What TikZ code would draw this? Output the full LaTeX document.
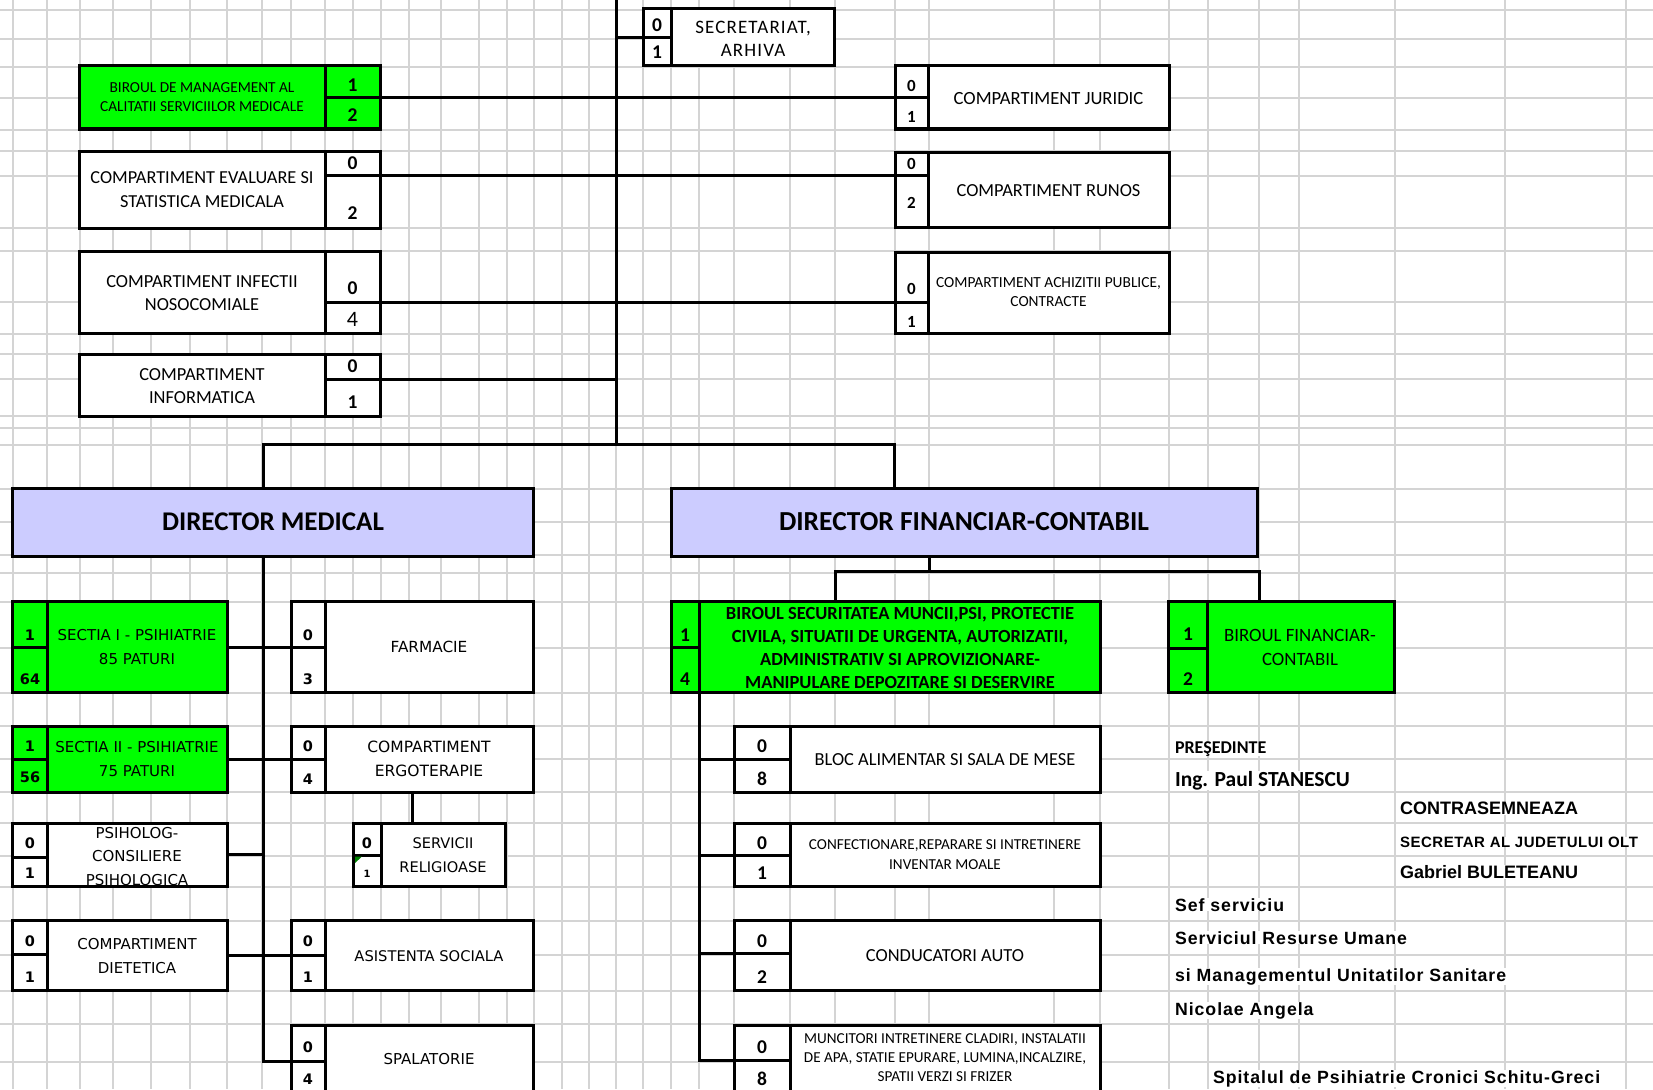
\documentclass[tikz,border=0pt]{standalone}
\usepackage{fontspec}
\setmainfont{Carlito}
\newfontfamily\calfont{Carlito}
\newfontfamily\secfont{Carlito}[LetterSpace=6]
\newfontfamily\dvfont{DejaVu Sans}
\newfontfamily\arfont{Liberation Sans}
\newfontfamily\arlsfont{Liberation Sans}[LetterSpace=5.5]
\newfontfamily\arlsbfont{Liberation Sans}[LetterSpace=3.5]
\usetikzlibrary{fit}
\definecolor{grn}{RGB}{0,255,0}
\definecolor{lav}{RGB}{204,204,255}
\definecolor{gridc}{RGB}{212,212,212}
\definecolor{dkgrn}{RGB}{0,128,0}
\newcommand\fsz[2]{\fontsize{#1}{#2}\selectfont}
\tikzset{
  gridl/.style={draw=gridc, line width=1.6pt},
  bx/.style={draw=black, line width=3pt, inner sep=0pt, outer sep=0pt, rectangle, fill=white},
  gbx/.style={bx, fill=grn},
  conn/.style={draw=black, line width=3pt},
  tx/.style={inner sep=0pt, outer sep=0pt, align=center, text=black},
  numc/.style={tx, font={\calfont\bfseries\fsz{19.5}{20}}},
  numj/.style={tx, font={\calfont\bfseries\fsz{17}{18}}},
  numv/.style={tx, font={\dvfont\bfseries\fsz{14.5}{16}}},
  sig/.style={inner sep=0pt, outer sep=0pt, anchor=base west, fill=white, text=black},
}
\begin{document}
\begin{tikzpicture}[x=1pt,y=-1pt]
\useasboundingbox (0,0) rectangle (1653,1089);
\clip (0,0) rectangle (1653,1089);
\fill[white] (0,0) rectangle (1653,1089);
% spreadsheet grid
\foreach \x in {13,47,80,113,151,190,227,262,291,325,353,381,409,441,479,507,534,562,589,616,643,671,699,734,790,835,895,929,1054,1100,1169,1208,1259,1299,1395,1505,1626}
  \draw[gridl] (\x,0) -- (\x,1089);
\foreach \y in {10,39,67,98,130,151,176,228,251,302,334,354,379,416,428,445,489,522,555,573,602,648,693,726,759,792,823,856,887,921,955,991,1024,1062}
  \draw[gridl] (0,\y) -- (1653,\y);

% junction coordinates
\coordinate (ttop) at (616,0);
\coordinate (tbot) at (616,444);
\coordinate (jl) at (263,444);
\coordinate (jr) at (894,444);
\coordinate (mt) at (263,1061);
\coordinate (jfc) at (929,571);
\coordinate (jbs) at (835,571);
\coordinate (jbf) at (1259,571);
\coordinate (ft) at (699,1060);

% ---------- boxes (top) ----------
\node[gbx,fit={(79,66)(380,129)}] (bm) {};
\node[bx,fit={(79,151)(380,228)}] (ev) {};
\node[bx,fit={(79,251)(380,333)}] (in) {};
\node[bx,fit={(79,354)(380,416)}] (if) {};
\node[bx,fit={(643,9)(834,66)}] (se) {};
\node[bx,fit={(895,66)(1169,129)}] (ju) {};
\node[bx,fit={(895,152)(1169,227)}] (ru) {};
\node[bx,fit={(895,252)(1169,333)}] (ac) {};
% ---------- boxes (bottom) ----------
\node[bx,fill=lav,fit={(12.5,488)(533,556)}] (dm) {};
\node[bx,fill=lav,fit={(671.5,488)(1257,556)}] (fc) {};
\node[gbx,fit={(12.5,601)(227,692)}] (s1) {};
\node[gbx,fit={(12.5,726)(227,792)}] (s2) {};
\node[bx,fit={(12.5,823)(227,886)}] (ps) {};
\node[bx,fit={(12.5,920)(227,990)}] (di) {};
\node[bx,fit={(291,601)(533,692)}] (fa) {};
\node[bx,fit={(291,726)(533,792)}] (er) {};
\node[bx,fit={(353,823)(505,886)}] (sv) {};
\node[bx,fit={(291,920)(533,990)}] (as) {};
\node[bx,fit={(291,1025)(533,1100)}] (sp) {};
\node[gbx,fit={(671.5,601)(1100,692)}] (bs) {};
\node[gbx,fit={(1168,601)(1394,692)}] (bf) {};
\node[bx,fit={(734,726)(1100,792)}] (bl) {};
\node[bx,fit={(734,823)(1100,886)}] (cf) {};
\node[bx,fit={(734,920)(1100,990)}] (ca) {};
\node[bx,fit={(734,1025)(1100,1100)}] (mu) {};

% number cells
\node[gbx,fit={(325,66)(380,98)}] (bm1) {};
\node[gbx,fit={(325,98)(380,129)}] (bm2) {};
\node[bx,fit={(325,151)(380,175)}] (ev1) {};
\node[bx,fit={(325,175)(380,228)}] (ev2) {};
\node[bx,fit={(325,251)(380,302)}] (in1) {};
\node[bx,fit={(325,302)(380,333)}] (in2) {};
\node[bx,fit={(325,354)(380,379)}] (if1) {};
\node[bx,fit={(325,379)(380,416)}] (if2) {};
\node[bx,fit={(643,9)(671,38)}] (se1) {};
\node[bx,fit={(643,38)(671,66)}] (se2) {};
\node[bx,fit={(895,66)(928,98)}] (ju1) {};
\node[bx,fit={(895,98)(928,129)}] (ju2) {};
\node[bx,fit={(895,152)(928,175)}] (ru1) {};
\node[bx,fit={(895,175)(928,227)}] (ru2) {};
\node[bx,fit={(895,252)(928,302)}] (ac1) {};
\node[bx,fit={(895,302)(928,333)}] (ac2) {};
\node[gbx,fit={(12.5,601)(47,647)}] (s11) {};
\node[gbx,fit={(12.5,647)(47,692)}] (s12) {};
\node[gbx,fit={(12.5,726)(47,759)}] (s21) {};
\node[gbx,fit={(12.5,759)(47,792)}] (s22) {};
\node[bx,fit={(12.5,823)(47,857)}] (ps1) {};
\node[bx,fit={(12.5,857)(47,886)}] (ps2) {};
\node[bx,fit={(12.5,920)(47,954)}] (di1) {};
\node[bx,fit={(12.5,954)(47,990)}] (di2) {};
\node[bx,fit={(291,601)(325,647)}] (fa1) {};
\node[bx,fit={(291,647)(325,692)}] (fa2) {};
\node[bx,fit={(291,726)(325,759)}] (er1) {};
\node[bx,fit={(291,759)(325,792)}] (er2) {};
\node[bx,fit={(353,823)(381,855)}] (sv1) {};
\node[bx,fit={(353,855)(381,886)}] (sv2) {};
\node[bx,fit={(291,920)(325,955)}] (as1) {};
\node[bx,fit={(291,955)(325,990)}] (as2) {};
\node[bx,fit={(291,1025)(325,1061)}] (sp1) {};
\node[bx,fit={(291,1061)(325,1100)}] (sp2) {};
\node[gbx,fit={(671.5,601)(699,647)}] (bs1) {};
\node[gbx,fit={(671.5,647)(699,692)}] (bs2) {};
\node[gbx,fit={(1168,601)(1207,648)}] (bf1) {};
\node[gbx,fit={(1168,648)(1207,692)}] (bf2) {};
\node[bx,fit={(734,726)(790,759)}] (bl1) {};
\node[bx,fit={(734,759)(790,792)}] (bl2) {};
\node[bx,fit={(734,823)(790,855)}] (cf1) {};
\node[bx,fit={(734,855)(790,886)}] (cf2) {};
\node[bx,fit={(734,920)(790,953)}] (ca1) {};
\node[bx,fit={(734,953)(790,990)}] (ca2) {};
\node[bx,fit={(734,1025)(790,1060)}] (mu1) {};
\node[bx,fit={(734,1060)(790,1100)}] (mu2) {};
\fill[dkgrn] (355,856.5) -- (362,856.5) -- (355,863) -- cycle;

% ---------- connectors ----------
\draw[conn] (ttop) -- (tbot);
\draw[conn] (se1.south west) -- (se1.south west -| ttop);
\draw[conn] (bm.east) -- (ju.west);
\draw[conn] (ev1.south east) -- (ru1.south west);
\draw[conn] (in1.south east) -- (ac1.south west);
\draw[conn] (if1.south east) -- (if1.south east -| ttop);
\draw[conn] (dm.north -| jl) -- (jl) -- (jr) -- (fc.north -| jr);
\draw[conn] (dm.south -| mt) -- (mt) -- (sp1.south west);
\draw[conn] (fa1.south west) -- (fa1.south west -| s1.east);
\draw[conn] (er1.south west) -- (er1.south west -| s2.east);
\draw[conn] (ps.east) -- (ps.east -| mt);
\draw[conn] (as1.south west) -- (as1.south west -| di.east);
\draw[conn] (er.south) -- (er.south |- sv.north);
\draw[conn] (fc.south -| jfc) -- (jfc);
\draw[conn] (bs.north -| jbs) -- (jbs) -- (jbf) -- (bf.north -| jbf);
\draw[conn] (bs.south -| ft) -- (ft) -- (mu1.south west);
\draw[conn] (bl1.south west) -- (bl1.south west -| ft);
\draw[conn] (cf1.south west) -- (cf1.south west -| ft);
\draw[conn] (ca1.south west) -- (ca1.south west -| ft);

% ---------- texts (top) ----------
\node[tx,font={\calfont\fsz{15.3}{19}}] (bmt) at (202,97.5) {BIROUL DE MANAGEMENT AL\\CALITATII SERVICIILOR MEDICALE};
\node[numc] (bm1t) at (352.5,85) {1};
\node[numc] (bm2t) at (352.5,115) {2};
\node[tx,font={\calfont\fsz{18.3}{24}}] (evt) at (202,190) {COMPARTIMENT EVALUARE SI\\STATISTICA MEDICALA};
\node[numc] (ev1t) at (352.5,163) {0};
\node[numc] (ev2t) at (352.5,213) {2};
\node[tx,font={\calfont\fsz{18.4}{23}}] (int) at (202,293.5) {COMPARTIMENT INFECTII\\NOSOCOMIALE};
\node[numc] (in1t) at (352.5,288) {0};
\node[tx,font={\calfont\fsz{22}{22}}] (in2t) at (352.5,319) {4};
\node[tx,font={\calfont\fsz{18.4}{23}}] (ift) at (202,386.5) {COMPARTIMENT\\INFORMATICA};
\node[numc] (if1t) at (352.5,366) {0};
\node[numc] (if2t) at (352.5,402) {1};
\node[tx,font={\secfont\fsz{19}{23}}] (set) at (753,38.5) {SECRETARIAT,\\ARHIVA};
\node[numc] (se1t) at (657,25) {0};
\node[numc] (se2t) at (657,52) {1};
\node[tx,font={\calfont\fsz{18.6}{20}}] (jut) at (1048.5,99) {COMPARTIMENT JURIDIC};
\node[numj] (ju1t) at (911.5,86) {0};
\node[numj] (ju2t) at (911.5,117) {1};
\node[tx,font={\calfont\fsz{18.4}{20}}] (rut) at (1048.5,191) {COMPARTIMENT RUNOS};
\node[numj] (ru1t) at (911.5,164) {0};
\node[numj] (ru2t) at (911.5,203) {2};
\node[tx,font={\calfont\fsz{15.4}{19}}] (act) at (1048.5,292.5) {COMPARTIMENT ACHIZITII PUBLICE,\\CONTRACTE};
\node[numj] (ac1t) at (911.5,289) {0};
\node[numj] (ac2t) at (911.5,322) {1};

% ---------- texts (bottom) ----------
\node[tx,font={\calfont\bfseries\fsz{27}{28}}] (dmt) at (273,522) {DIRECTOR MEDICAL};
\node[tx,font={\calfont\bfseries\fsz{27.5}{28}}] (fct) at (964,522) {DIRECTOR FINANCIAR-CONTABIL};

\node[tx,font={\dvfont\fsz{15}{24}}] (s1t) at (137,647) {SECTIA I - PSIHIATRIE\\85 PATURI};
\node[numv] (s11t) at (30,635) {1};
\node[numv] (s12t) at (30,679) {64};
\node[tx,font={\dvfont\fsz{15}{24}}] (s2t) at (137,759) {SECTIA II - PSIHIATRIE\\75 PATURI};
\node[numv] (s21t) at (30,746) {1};
\node[numv] (s22t) at (30,777) {56};
\node[tx,font={\dvfont\fsz{15}{23.5}}] (pst) at (137,856.5) {PSIHOLOG-\\CONSILIERE\\PSIHOLOGICA};
\node[numv] (ps1t) at (30,843) {0};
\node[numv] (ps2t) at (30,873) {1};
\draw[conn] (ps.south west) -- (ps.south east);
\node[tx,font={\dvfont\fsz{15}{24}}] (dit) at (137,956) {COMPARTIMENT\\DIETETICA};
\node[numv] (di1t) at (30,941) {0};
\node[numv] (di2t) at (30,977) {1};

\node[tx,font={\dvfont\fsz{15.3}{20}}] (fat) at (429,647) {FARMACIE};
\node[numv] (fa1t) at (308,635) {0};
\node[numv] (fa2t) at (308,679) {3};
\node[tx,font={\dvfont\fsz{15.5}{24}}] (ert) at (429,759) {COMPARTIMENT\\ERGOTERAPIE};
\node[numv] (er1t) at (308,746) {0};
\node[numv] (er2t) at (308,779) {4};
\node[tx,font={\dvfont\fsz{14.6}{24}}] (svt) at (443,855) {SERVICII\\RELIGIOASE};
\node[numv] (sv1t) at (367,843) {0};
\node[tx,font={\dvfont\bfseries\fsz{10}{11}}] (sv2t) at (367,874) {1};
\node[tx,font={\dvfont\fsz{14.7}{20}}] (ast) at (429,956) {ASISTENTA SOCIALA};
\node[numv] (as1t) at (308,941) {0};
\node[numv] (as2t) at (308,977) {1};
\node[tx,font={\dvfont\fsz{15}{20}}] (spt) at (429,1059) {SPALATORIE};
\node[numv] (sp1t) at (308,1047) {0};
\node[numv] (sp2t) at (308,1079) {4};

\node[tx,font={\calfont\bfseries\fsz{18.5}{23.3}}] (bst) at (900,648) {BIROUL SECURITATEA MUNCII,PSI, PROTECTIE\\CIVILA, SITUATII DE URGENTA, AUTORIZATII,\\ADMINISTRATIV SI APROVIZIONARE-\\MANIPULARE DEPOZITARE SI DESERVIRE};
\draw[conn] (bs.south west) -- (bs.south east);
\node[numc] (bs1t) at (685,635) {1};
\node[numc] (bs2t) at (685,679) {4};
\node[tx,font={\calfont\fsz{18.8}{24}}] (bft) at (1300,647) {BIROUL FINANCIAR-\\CONTABIL};
\node[numc] (bf1t) at (1188,634) {1};
\node[numc] (bf2t) at (1188,679) {2};
\node[tx,font={\calfont\fsz{18.4}{20}}] (blt) at (945,760) {BLOC ALIMENTAR SI SALA DE MESE};
\node[numc] (bl1t) at (762,746) {0};
\node[numc] (bl2t) at (762,779) {8};
\node[tx,font={\calfont\fsz{15.2}{20}}] (cft) at (945,855) {CONFECTIONARE,REPARARE SI INTRETINERE\\INVENTAR MOALE};
\node[numc] (cf1t) at (762,843) {0};
\node[numc] (cf2t) at (762,873) {1};
\node[tx,font={\calfont\fsz{18.4}{20}}] (cat) at (945,956) {CONDUCATORI AUTO};
\node[numc] (ca1t) at (762,941) {0};
\node[numc] (ca2t) at (762,977) {2};
\node[tx,font={\calfont\fsz{15.2}{19}}] (mut) at (945,1058) {MUNCITORI INTRETINERE CLADIRI, INSTALATII\\DE APA, STATIE EPURARE, LUMINA,INCALZIRE,\\SPATII VERZI SI FRIZER};
\node[numc] (mu1t) at (762,1047) {0};
\node[numc] (mu2t) at (762,1079) {8};

% ---------- signatures ----------
\node[sig,font={\calfont\bfseries\fsz{18}{20}}] (pres) at (1175,753) {PREŞEDINTE};
\node[sig,font={\calfont\bfseries\fsz{21.5}{24}}] (pname) at (1175,786) {Ing. Paul STANESCU};
\node[sig,font={\arfont\bfseries\fsz{18}{20}}] (contra) at (1400,814.5) {CONTRASEMNEAZA};
\node[sig,font={\arlsbfont\bfseries\fsz{15}{17}}] (secr) at (1400,847) {SECRETAR AL JUDETULUI OLT};
\node[sig,font={\arfont\bfseries\fsz{18}{20}}] (gname) at (1400,878.5) {Gabriel BULETEANU};
\node[sig,font={\arlsfont\bfseries\fsz{17.7}{20}}] (sef) at (1175,911) {Sef serviciu};
\node[sig,font={\arlsfont\bfseries\fsz{17.7}{20}}] (srv) at (1175,944) {Serviciul Resurse Umane};
\node[sig,font={\arlsfont\bfseries\fsz{17.7}{20}}] (mng) at (1175,981) {si Managementul Unitatilor Sanitare};
\node[sig,font={\arlsfont\bfseries\fsz{17.7}{20}}] (nic) at (1175,1015) {Nicolae Angela};
\node[sig,font={\arlsfont\bfseries\fsz{17.7}{20}}] (spit) at (1213,1083) {Spitalul de Psihiatrie Cronici Schitu-Greci};
\end{tikzpicture}
\end{document}
